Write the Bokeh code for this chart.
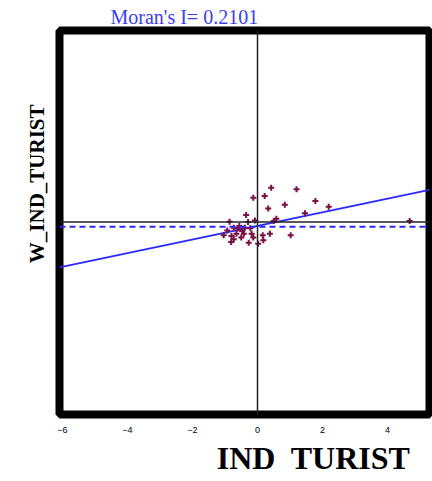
from bokeh.plotting import figure
from bokeh.models import Span, Title, FixedTicker, Range1d, ColumnDataSource
from bokeh.embed import file_html
from bokeh.resources import INLINE

# data
ind_turist = [0.42, 0.22, -0.13, 1.20, 0.84, 0.33, 1.78, 1.46, -0.35, -0.08,
              -0.29, -0.86, 0.58, 0.50, -0.56, -0.73, -0.93, -0.47, -0.42, -0.65,
              -0.80, -0.73, -0.81, -1.04, -0.18, -0.13, -0.27, 0.02, 0.16, 0.18,
              0.38, 1.02, -0.22, -0.39, 2.19, -0.50, -0.60, 4.68]
w_ind_turist = [1.06, 0.80, 0.75, 1.01, 0.53, 0.42, 0.65, 0.27, 0.22, 0.05,
                0.00, 0.01, 0.10, 0.03, -0.12, -0.18, -0.26, -0.28, -0.36, -0.36,
                -0.43, -0.53, -0.62, -0.41, -0.36, -0.48, -0.64, -0.67, -0.41, -0.56,
                -0.36, -0.41, -0.19, -0.18, 0.47, -0.48, -0.20, 0.03]
moran_i = 0.2101
intercept = -0.12
mean_w = -0.15
x_ticks = [-6, -4, -2, 0, 2, 4]
title_text = "Moran's I= 0.2101"
x_label = "IND\u00a0 TURIST"
y_label = "W_IND_TURIST"

x_lo, x_hi = -6.09, 5.29
y_lo, y_hi = -5.94, 5.91

p = figure(width=432, height=481, output_backend="svg", toolbar_location=None,
           x_range=Range1d(x_lo, x_hi), y_range=Range1d(y_lo, y_hi),
           min_border_left=59, min_border_right=3, min_border_top=29, min_border_bottom=67)
p.grid.visible = False
p.yaxis.visible = False
p.outline_line_color = "black"
p.outline_line_width = 8
p.outline_line_alpha = 1.0
p.background_fill_color = "white"
p.border_fill_color = "white"

ax = p.xaxis[0]
ax.ticker = FixedTicker(ticks=x_ticks)
ax.axis_line_color = None
ax.major_tick_line_color = None
ax.minor_tick_line_color = None
ax.major_label_text_font = "Liberation Sans"
ax.major_label_text_font_size = "9px"
ax.major_label_text_color = "#000000"
ax.major_label_standoff = 6

# axes through origin
p.add_layout(Span(location=0, dimension="height", line_color="#222222", line_width=1.5))
p.add_layout(Span(location=0, dimension="width", line_color="#222222", line_width=1.5))
# mean line
p.add_layout(Span(location=mean_w, dimension="width", line_color="#2a2aff", line_width=2,
                  line_dash="6 4"))
# regression line
xs = [x_lo, x_hi]
ys = [intercept + moran_i * v for v in xs]
p.line(xs, ys, line_color="#2a2aff", line_width=2)

src = ColumnDataSource(dict(x=ind_turist, y=w_ind_turist))
p.scatter("x", "y", source=src, marker="cross", size=6, line_color="#7a1046", line_width=2)

p.add_layout(Title(text=title_text, align="left", offset=51, standoff=6,
                   vertical_align="bottom", text_font="Liberation Serif",
                   text_font_size="20px", text_font_style="normal",
                   text_color="#3c3cf5"), "above")
p.add_layout(Title(text=x_label, align="right", offset=19, standoff=4,
                   text_font="Liberation Serif", text_font_size="32px",
                   text_font_style="bold", text_color="black"), "below")
p.add_layout(Title(text=y_label, align="right", offset=74, standoff=22,
                   text_font="Liberation Serif", text_font_size="21px",
                   text_font_style="bold", text_color="black"), "left")

open("out.html", "w").write(file_html(p, INLINE))
